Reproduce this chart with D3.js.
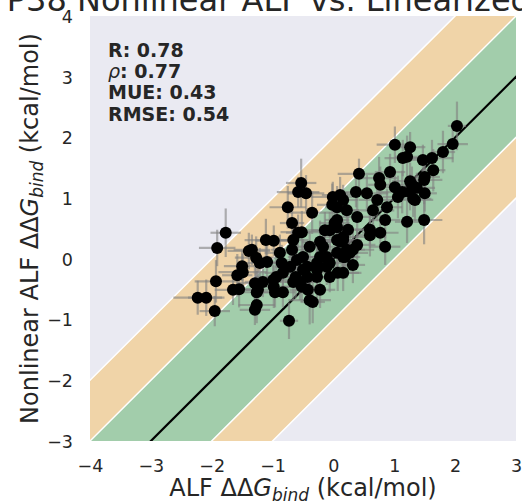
<!DOCTYPE html>
<html>
<head>
<meta charset="utf-8">
<script src="https://cdn.jsdelivr.net/npm/d3@7"></script>
<style>
  html, body { margin: 0; padding: 0; background: #ffffff; }
  svg { display: block; }
  text { font-family: "DejaVu Sans", sans-serif; fill: #262626; }
</style>
</head>
<body>
<svg id="chart" width="522" height="501"></svg>
<script>
// Linearized ALF ddG (x) vs. nonlinear ALF ddG (y), kcal/mol
const alfX = [
  -2.23,-2.09,-1.95,-1.93,-1.91,-1.77,-1.39,-1.50,-1.58,-1.49,
  -1.65,-1.55,-1.27,-1.21,-1.29,-1.24,-1.29,-1.26,-1.11,-0.98,
  -0.88,-0.75,-0.68,-0.58,-0.53,-0.45,-0.35,-0.73,-1.16,-0.94,
  -0.98,-0.83,-0.85,-0.66,-0.68,-0.58,-0.62,-0.66,-0.42,-0.39,
  -0.34,-0.22,-0.52,-0.43,-0.27,-0.22,-0.27,-0.17,-0.06,-0.01,
   0.11,-0.02, 0.06, 0.06,-0.06, 0.07,-0.06, 0.16,-1.26,-0.96,
  -0.55,-0.83,-0.99,-0.71,-0.27, 0.16,-0.50,-0.11,-0.52,-1.34,
  -1.09, 0.06,-0.14, 0.06, 0.16,-0.22,-0.39,-0.50,-0.60,-0.11,
   0.06, 0.22,-0.43, 2.03, 1.96, 1.80, 1.01, 1.26, 1.21, 1.14,
   1.47, 1.62, 1.64, 1.50, 1.49, 0.42, 0.93, 0.75, 0.77, 1.01,
   1.26, 1.13, 1.26, 1.37, 1.50, 1.06, 1.31, 0.37, 0.55, 0.72,
   0.88, 1.21, 1.49, 0.85, 0.65, 0.77, 0.60, 0.85, 0.39, 0.02,
   0.11, 0.27, 0.16, 0.22, 0.39, 0.60, 0.24, 0.32, 0.19, 0.32,
   0.16, 1.29, 1.34
];
const nonlinY = [
  -0.64,-0.64,-0.86,-0.37, 0.18, 0.43, 0.13,-0.12,-0.27,-0.22,
  -0.51,-0.50, 0.02,-0.07,-0.40,-0.51,-0.84,-0.76, 0.31, 0.30,
   0.10, 0.85, 0.59, 1.10, 1.25, 1.08, 0.76,-1.02,-0.38,-0.30,
  -0.46,-0.55,-0.07, 0.31, 0.15, 0.43,-0.30,-0.38,-0.51,-0.68,
  -0.71,-0.51,-0.46,-0.30,-0.30, 0.03,-0.07, 0.20, 0.47, 1.02,
   1.05, 0.89, 0.64, 0.31,-0.07,-0.23,-0.30, 0.03,-0.55,-0.55,
  -0.38,-0.23,-0.35,-0.13,-0.18,-0.23,-0.18,-0.13, 0.44, 0.15,
  -0.05, 0.85, 0.47, 0.52, 0.36, 0.28, 0.20, 0.03,-0.02, 0.03,
   0.10, 0.15,-0.13, 2.19, 1.89, 1.76, 1.88, 1.84, 1.68, 1.66,
   1.63, 1.66, 1.46, 1.35, 1.30, 1.40, 1.43, 1.33, 1.22, 1.18,
   1.28, 1.10, 1.10, 1.17, 1.08, 1.02, 0.99, 1.10, 1.08, 0.97,
   0.85, 0.61, 0.64, 0.64, 0.80, 0.43, 0.39, 0.20, 0.23, 0.59,
   0.28, 0.10, 0.97, 0.80, 0.69, 0.48, 0.48, 0.15, 0.03,-0.10,
   0.31, 1.22, 0.97
];
// uncertainties (half-widths of the error bars)
const alfXErr = [
  0.40,0.30,0.25,0.35,0.30,0.25,0.35,0.30,0.25,0.40,
  0.30,0.20,0.35,0.25,0.30,0.20,0.25,0.30,0.35,0.30,
  0.25,0.30,0.20,0.35,0.25,0.30,0.40,0.15,0.30,0.35,
  0.25,0.20,0.30,0.25,0.35,0.20,0.30,0.25,0.30,0.35,
  0.20,0.25,0.30,0.25,0.35,0.30,0.20,0.25,0.30,0.35,
  0.30,0.25,0.20,0.30,0.25,0.35,0.30,0.25,0.30,0.20,
  0.25,0.30,0.35,0.25,0.20,0.30,0.25,0.30,0.35,0.30,
  0.25,0.20,0.30,0.25,0.35,0.30,0.20,0.25,0.30,0.25,
  0.35,0.30,0.25,0.15,0.25,0.20,0.30,0.25,0.20,0.30,
  0.25,0.35,0.20,0.25,0.30,0.35,0.25,0.30,0.20,0.25,
  0.30,0.35,0.25,0.30,0.20,0.25,0.30,0.25,0.35,0.30,
  0.25,0.20,0.30,0.25,0.35,0.30,0.20,0.25,0.30,0.25,
  0.35,0.30,0.25,0.20,0.30,0.25,0.30,0.35,0.25,0.20,
  0.30,0.25,0.30
];
const nonlinYErr = [
  0.28,0.30,0.25,0.35,0.30,0.40,0.30,0.25,0.35,0.30,
  0.25,0.30,0.35,0.25,0.30,0.35,0.25,0.30,0.35,0.25,
  0.30,0.35,0.30,0.25,0.40,0.30,0.35,0.30,0.25,0.30,
  0.35,0.25,0.30,0.35,0.25,0.30,0.35,0.30,0.25,0.40,
  0.35,0.30,0.25,0.30,0.35,0.25,0.30,0.35,0.30,0.25,
  0.30,0.35,0.25,0.30,0.35,0.30,0.25,0.30,0.35,0.25,
  0.30,0.35,0.25,0.30,0.35,0.30,0.25,0.30,0.35,0.25,
  0.30,0.35,0.30,0.25,0.30,0.35,0.25,0.30,0.35,0.30,
  0.25,0.30,0.35,0.40,0.30,0.35,0.30,0.25,0.35,0.30,
  0.25,0.30,0.35,0.30,0.40,0.25,0.30,0.35,0.30,0.25,
  0.30,0.35,0.30,0.25,0.30,0.35,0.30,0.25,0.30,0.35,
  0.30,0.35,0.40,0.30,0.25,0.30,0.35,0.30,0.25,0.30,
  0.35,0.30,0.25,0.30,0.35,0.30,0.25,0.30,0.35,0.30,
  0.25,0.30,0.35
];

const xTicks = [-4, -3, -2, -1, 0, 1, 2, 3];
const yTicks = [-3, -2, -1, 0, 1, 2, 3, 4];
const statLines = [
  { key: "R", value: "0.78" },
  { key: "\u03C1", value: "0.77" },
  { key: "MUE", value: "0.43" },
  { key: "RMSE", value: "0.54" }
];
const titleText = "P38 Nonlinear ALF vs. Linearized ALF";

const svg = d3.select("#chart");
const plot = { left: 90, right: 516, top: 16, bottom: 441 };

const x = d3.scaleLinear().domain([-4, 3]).range([plot.left, plot.right]);
const y = d3.scaleLinear().domain([-3, 4]).range([plot.bottom, plot.top]);

svg.append("defs").append("clipPath").attr("id", "plot-clip")
  .append("rect")
  .attr("x", plot.left).attr("y", plot.top)
  .attr("width", plot.right - plot.left).attr("height", plot.bottom - plot.top);

// axes background
svg.append("rect")
  .attr("x", plot.left).attr("y", plot.top)
  .attr("width", plot.right - plot.left).attr("height", plot.bottom - plot.top)
  .attr("fill", "#EAEAF2");

const g = svg.append("g").attr("clip-path", "url(#plot-clip)");

// +/-2 and +/-1 kcal/mol agreement bands around the identity line
const bandPath = (w) => {
  const lo = -8, hi = 8;
  return d3.line()([
    [x(lo), y(lo - w)], [x(hi), y(hi - w)],
    [x(hi), y(hi + w)], [x(lo), y(lo + w)]
  ]) + "Z";
};
g.append("path").attr("d", bandPath(2))
  .attr("fill", "#F0D4A8").attr("stroke", "#ffffff").attr("stroke-width", 1.5);
g.append("path").attr("d", bandPath(1))
  .attr("fill", "#A2CDAB").attr("stroke", "#ffffff").attr("stroke-width", 1.5);

// identity line
g.append("line")
  .attr("x1", x(-8)).attr("y1", y(-8))
  .attr("x2", x(8)).attr("y2", y(8))
  .attr("stroke", "#000000").attr("stroke-width", 2.2);

const n = Math.min(alfX.length, nonlinY.length);
const idx = d3.range(n);

// error bars
const eb = g.append("g")
  .attr("stroke", "#808080").attr("stroke-opacity", 0.6).attr("stroke-width", 2.2);
eb.selectAll("line.xe").data(idx).join("line").attr("class", "xe")
  .attr("x1", i => x(alfX[i] - alfXErr[i])).attr("x2", i => x(alfX[i] + alfXErr[i]))
  .attr("y1", i => y(nonlinY[i])).attr("y2", i => y(nonlinY[i]));
eb.selectAll("line.ye").data(idx).join("line").attr("class", "ye")
  .attr("x1", i => x(alfX[i])).attr("x2", i => x(alfX[i]))
  .attr("y1", i => y(nonlinY[i] - nonlinYErr[i])).attr("y2", i => y(nonlinY[i] + nonlinYErr[i]));

// points
g.append("g").selectAll("circle").data(idx).join("circle")
  .attr("cx", i => x(alfX[i])).attr("cy", i => y(nonlinY[i]))
  .attr("r", 6).attr("fill", "#000000");

// axes (labels only, no ticks or spines)
const xAxis = svg.append("g")
  .attr("transform", `translate(0,${plot.bottom})`)
  .call(d3.axisBottom(x).tickValues(xTicks).tickSize(0).tickPadding(0)
    .tickFormat(d => d < 0 ? "\u2212" + Math.abs(d) : String(d)));
xAxis.select(".domain").remove();
xAxis.selectAll("text")
  .attr("dy", null).attr("y", 31)
  .style("font-size", "17.5px").style("fill", "#262626");

const yAxis = svg.append("g")
  .attr("transform", `translate(${plot.left},0)`)
  .call(d3.axisLeft(y).tickValues(yTicks).tickSize(0).tickPadding(0)
    .tickFormat(d => d < 0 ? "\u2212" + Math.abs(d) : String(d)));
yAxis.select(".domain").remove();
yAxis.selectAll("text")
  .attr("x", -17).attr("dy", "0.36em")
  .style("font-size", "17.5px").style("fill", "#262626");

// axis labels with the ddG_bind symbol
function ddgLabel(sel, prefix) {
  sel.append("tspan").text(prefix + "\u0394\u0394");
  sel.append("tspan").style("font-style", "italic").text("G");
  sel.append("tspan").style("font-style", "italic").style("font-size", "17px")
    .attr("dy", 5).text("bind");
  sel.append("tspan").attr("dy", -5).text(" (kcal/mol)");
}
const xl = svg.append("text")
  .attr("x", (plot.left + plot.right) / 2).attr("y", 496)
  .attr("text-anchor", "middle").style("font-size", "24px");
ddgLabel(xl, "ALF ");

const yl = svg.append("text")
  .attr("transform", `translate(38,${(plot.top + plot.bottom) / 2}) rotate(-90)`)
  .attr("text-anchor", "middle").style("font-size", "24px");
ddgLabel(yl, "Nonlinear ALF ");

// statistics box
const st = svg.append("g");
statLines.forEach((s, i) => {
  const t = st.append("text")
    .attr("x", 108).attr("y", 57 + i * 21.2)
    .style("font-size", "19px").style("font-weight", "bold");
  if (s.key === "\u03C1") {
    t.append("tspan").style("font-style", "italic").style("font-weight", "normal").text(s.key);
  } else {
    t.append("tspan").text(s.key);
  }
  t.append("tspan").text(": " + s.value);
});

// title (wider than the figure)
svg.append("text")
  .attr("x", (plot.left + plot.right) / 2).attr("y", 11)
  .attr("text-anchor", "middle").style("font-size", "32px")
  .text(titleText);
</script>
</body>
</html>
